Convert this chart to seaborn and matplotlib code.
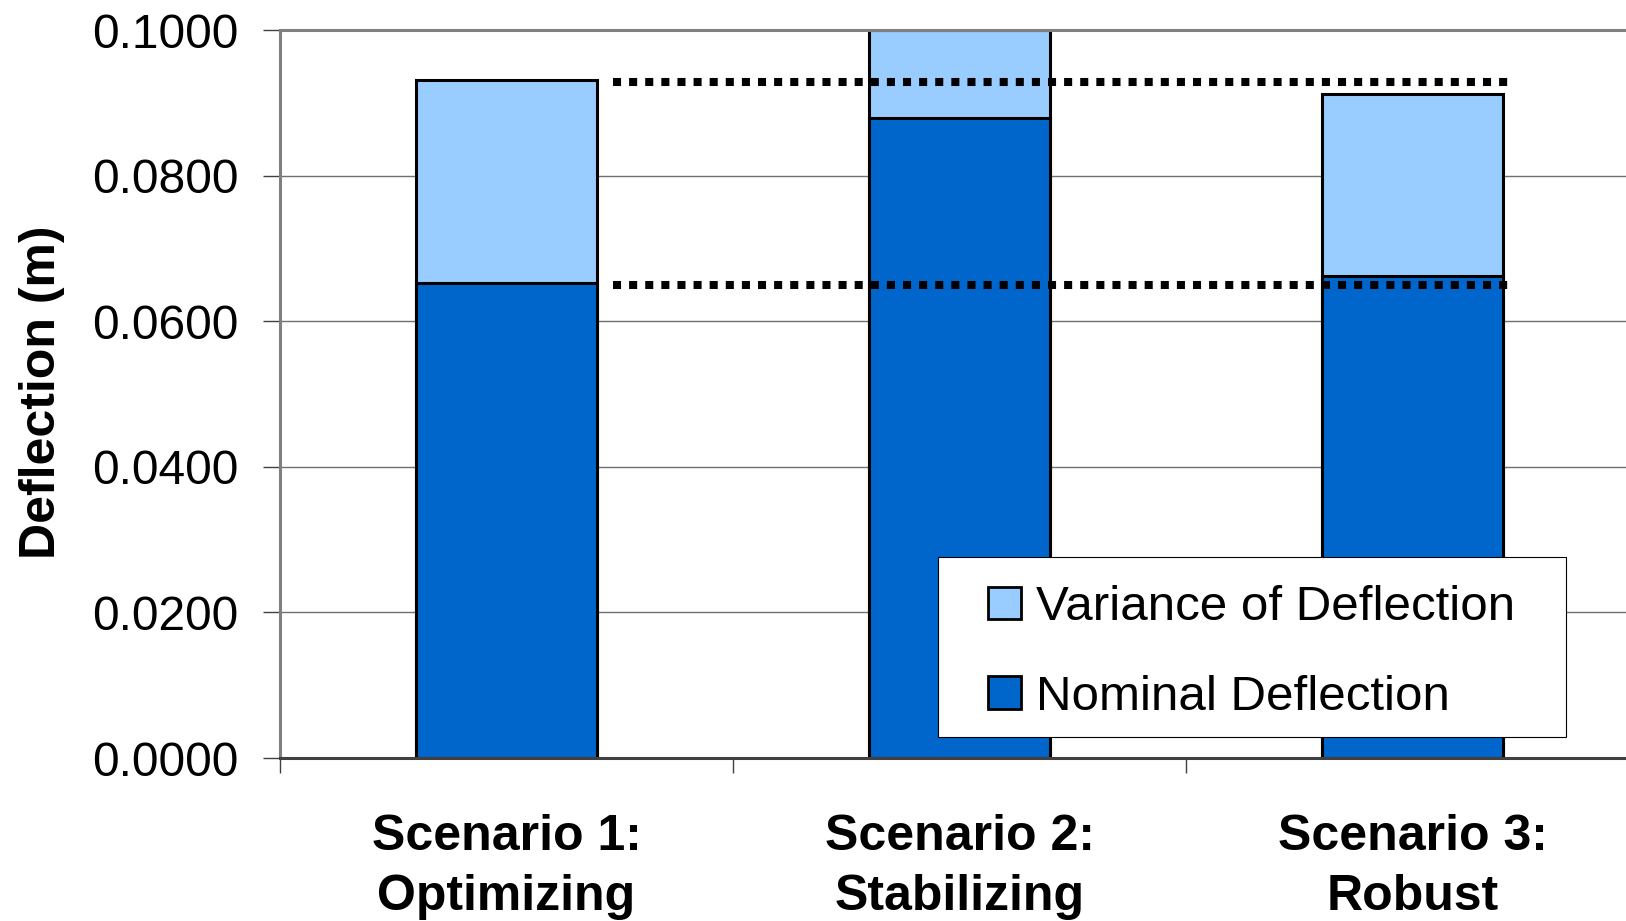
import matplotlib
matplotlib.use("Agg")
import matplotlib.pyplot as plt
import seaborn as sns
import pandas as pd
from matplotlib.patches import Patch, Rectangle
from matplotlib.ticker import FixedLocator

# ---- data ----
categories = ["Scenario 1:\nOptimizing", "Scenario 2:\nStabilizing", "Scenario 3:\nRobust"]
nominal = [0.0653, 0.0879, 0.0662]
variance = [0.0279, 0.0121, 0.0250]
ref_levels = [0.0928, 0.0650]
ref_xrange = [0.236, 2.21]
yticks = [0.0, 0.02, 0.04, 0.06, 0.08, 0.10]
series_names = ["Variance of Deflection", "Nominal Deflection"]

totals = [n + v for n, v in zip(nominal, variance)]
df = pd.DataFrame({"cat": categories, "nominal": nominal, "total": totals})

C_NOM = "#0066CC"
C_VAR = "#99CCFF"

sns.set_style("white")
plt.rcParams["font.family"] = ["Liberation Sans", "DejaVu Sans"]
plt.rcParams["text.color"] = "black"
plt.rcParams["axes.labelcolor"] = "black"
plt.rcParams["xtick.color"] = "black"
plt.rcParams["ytick.color"] = "black"

W, H = 1626, 921
fig = plt.figure(figsize=(W / 100, H / 100), dpi=100)
ax_l, ax_r, ax_t, ax_b = 280, 1639, 30, 758
ax = fig.add_axes([ax_l / W, 1 - ax_b / H, (ax_r - ax_l) / W, (ax_b - ax_t) / H])

sns.barplot(data=df, x="cat", y="total", color=C_VAR, saturation=1, width=0.4,
            edgecolor="black", linewidth=2.2, errorbar=None, ax=ax, zorder=2)
sns.barplot(data=df, x="cat", y="nominal", color=C_NOM, saturation=1, width=0.4,
            edgecolor="black", linewidth=2.2, errorbar=None, ax=ax, zorder=2)

for lvl in ref_levels:
    ax.plot(ref_xrange, [lvl, lvl], color="black", linewidth=5.8,
            linestyle=(0, (1, 1)), solid_capstyle="butt", dash_capstyle="butt", zorder=3)

ax.set_xlim(-0.5, 2.5)
ax.set_ylim(0, 0.1)
ax.set_yticks(yticks)
ax.set_yticklabels([f"{t:.4f}" for t in yticks])
ax.yaxis.grid(True, color="#707070", linewidth=1.0, zorder=0)
ax.set_axisbelow(True)

ax.set_xlabel("")
ax.set_ylabel("Deflection (m)", fontsize=36, fontweight="bold", color="black")
ax.yaxis.set_label_coords((42 - ax_l) / (ax_r - ax_l), 1 - (392 - ax_t) / (ax_b - ax_t))
ax.yaxis.label.set_va("center")

ax.tick_params(axis="y", which="major", labelsize=34.5, length=12, width=1,
               color="#404040", labelcolor="black", pad=18, left=True, direction="out")
ax.tick_params(axis="x", which="major", labelsize=36, length=0, pad=40, labelcolor="black")
for lab in ax.get_xticklabels():
    lab.set_fontweight("bold")
    lab.set_linespacing(1.4)
ax.xaxis.set_minor_locator(FixedLocator([-0.5, 0.5, 1.5, 2.5]))
ax.tick_params(axis="x", which="minor", length=11, width=1, color="#404040",
               bottom=True, direction="out")

ax.spines["right"].set_visible(False)
ax.spines["top"].set_color("#808080")
ax.spines["top"].set_linewidth(2.2)
ax.spines["left"].set_color("#808080")
ax.spines["left"].set_linewidth(2.2)
ax.spines["bottom"].set_color("#404040")
ax.spines["bottom"].set_linewidth(2.2)

# legend frame and legend
lx0, lx1, ly0, ly1 = 938, 1566, 557, 737
frame = Rectangle((lx0 / W, 1 - ly1 / H), (lx1 - lx0) / W, (ly1 - ly0) / H,
                  transform=fig.transFigure, facecolor="white", edgecolor="black",
                  linewidth=0.8, zorder=4, clip_on=False)
ax.add_patch(frame)
handles = [Patch(facecolor=C_VAR, edgecolor="black", linewidth=2),
           Patch(facecolor=C_NOM, edgecolor="black", linewidth=2)]
leg = ax.legend(handles, series_names, loc="center left",
                bbox_to_anchor=(988 / W, 1 - 652.5 / H), bbox_transform=fig.transFigure,
                frameon=False, fontsize=35.5, borderpad=0, borderaxespad=0,
                handlelength=0.67, handleheight=0.65, handletextpad=0.3,
                labelspacing=0.9)
for t in leg.get_texts():
    t.set_color("black")
leg.set_zorder(5)

fig.savefig("out.png", dpi=100)
